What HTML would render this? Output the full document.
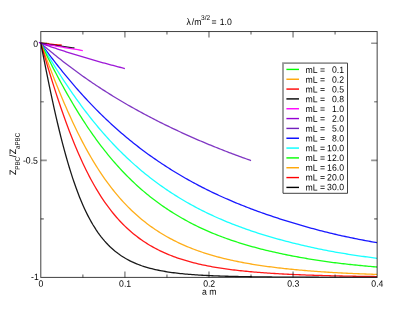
<!DOCTYPE html><html><head><meta charset="utf-8"><title>plot</title><style>html,body{margin:0;padding:0;background:#fff}svg{display:block}</style></head><body><svg width="407" height="315" viewBox="0 0 407 315" font-family="Liberation Sans, sans-serif" font-size="9.2" fill="#000" text-rendering="geometricPrecision" stroke="#000" stroke-width="0">
<rect width="407" height="315" fill="#fff"/>
<clipPath id="c"><rect x="40.8" y="31.55" width="336.34999999999997" height="245.84999999999997"/></clipPath>
<g clip-path="url(#c)" fill="none" stroke-width="1.3" stroke-opacity="0.9" stroke-linejoin="round">
<polyline stroke="#00ff00" points="40.80,43.26 42.90,43.30 45.00,43.34"/>
<polyline stroke="#ffa500" points="40.80,43.26 42.48,43.32 44.16,43.38 45.85,43.45 47.53,43.51 49.21,43.57"/>
<polyline stroke="#ff0000" points="40.80,43.26 42.55,43.42 44.30,43.59 46.06,43.75 47.81,43.91 49.56,44.07 51.31,44.23 53.06,44.39 54.81,44.54 56.57,44.70 58.32,44.85 60.07,45.00 61.82,45.16"/>
<polyline stroke="#000000" points="40.80,43.26 42.48,43.51 44.16,43.76 45.85,44.01 47.53,44.26 49.21,44.51 50.89,44.75 52.57,44.99 54.25,45.23 55.94,45.47 57.62,45.71 59.30,45.95 60.98,46.18 62.66,46.41 64.34,46.64 66.03,46.87 67.71,47.10 69.39,47.33 71.07,47.55 72.75,47.78 74.44,48.00"/>
<polyline stroke="#ff00ff" points="40.80,43.26 42.48,43.57 44.16,43.89 45.85,44.20 47.53,44.51 49.21,44.82 50.89,45.12 52.57,45.43 54.25,45.73 55.94,46.03 57.62,46.32 59.30,46.62 60.98,46.91 62.66,47.20 64.34,47.49 66.03,47.78 67.71,48.06 69.39,48.34 71.07,48.63 72.75,48.90 74.44,49.18 76.12,49.46 77.80,49.73 79.48,50.00 81.16,50.27 82.84,50.54"/>
<polyline stroke="#9400d3" points="40.80,43.26 42.48,43.85 44.16,44.45 45.85,45.03 47.53,45.62 49.21,46.19 50.89,46.77 52.57,47.34 54.25,47.91 55.94,48.47 57.62,49.03 59.30,49.58 60.98,50.13 62.66,50.68 64.34,51.22 66.03,51.76 67.71,52.29 69.39,52.83 71.07,53.35 72.75,53.88 74.44,54.40 76.12,54.92 77.80,55.43 79.48,55.94 81.16,56.45 82.84,56.96 84.53,57.46 86.21,57.96 87.89,58.45 89.57,58.94 91.25,59.43 92.93,59.92 94.62,60.40 96.30,60.87 97.98,61.35 99.66,61.82 101.34,62.29 103.02,62.76 104.71,63.22 106.39,63.68 108.07,64.13 109.75,64.59 111.43,65.04 113.12,65.49 114.80,65.93 116.48,66.38 118.16,66.82 119.84,67.25 121.52,67.69 123.21,68.12 124.89,68.56"/>
<polyline stroke="#7221bc" points="40.80,43.26 42.48,44.70 44.16,46.13 45.85,47.55 47.53,48.95 49.21,50.35 50.89,51.74 52.57,53.11 54.25,54.48 55.94,55.83 57.62,57.18 59.30,58.51 60.98,59.84 62.66,61.15 64.34,62.45 66.03,63.75 67.71,65.03 69.39,66.31 71.07,67.57 72.75,68.83 74.44,70.08 76.12,71.31 77.80,72.54 79.48,73.76 81.16,74.97 82.84,76.17 84.53,77.36 86.21,78.54 87.89,79.71 89.57,80.87 91.25,82.03 92.93,83.17 94.62,84.30 96.30,85.43 97.98,86.54 99.66,87.65 101.34,88.75 103.02,89.83 104.71,90.91 106.39,91.99 108.07,93.05 109.75,94.10 111.43,95.15 113.12,96.19 114.80,97.22 116.48,98.24 118.16,99.25 119.84,100.26 121.52,101.26 123.21,102.25 124.89,103.24 126.57,104.21 128.25,105.19 129.93,106.15 131.61,107.10 133.30,108.05 134.98,108.99 136.66,109.93 138.34,110.85 140.02,111.77 141.70,112.69 143.39,113.59 145.07,114.49 146.75,115.39 148.43,116.27 150.11,117.15 151.80,118.03 153.48,118.89 155.16,119.76 156.84,120.61 158.52,121.46 160.20,122.31 161.89,123.15 163.57,123.98 165.25,124.81 166.93,125.63 168.61,126.45 170.29,127.26 171.98,128.07 173.66,128.87 175.34,129.66 177.02,130.45 178.70,131.24 180.39,132.02 182.07,132.80 183.75,133.57 185.43,134.33 187.11,135.09 188.79,135.85 190.48,136.60 192.16,137.34 193.84,138.08 195.52,138.82 197.20,139.55 198.88,140.28 200.57,141.00 202.25,141.71 203.93,142.43 205.61,143.13 207.29,143.83 208.97,144.53 210.66,145.22 212.34,145.91 214.02,146.59 215.70,147.27 217.38,147.94 219.07,148.61 220.75,149.27 222.43,149.93 224.11,150.59 225.79,151.24 227.47,151.89 229.16,152.53 230.84,153.17 232.52,153.80 234.20,154.43 235.88,155.06 237.56,155.69 239.25,156.31 240.93,156.92 242.61,157.54 244.29,158.15 245.97,158.76 247.66,159.36 249.34,159.96 251.02,160.56"/>
<polyline stroke="#0000ff" points="40.80,43.26 42.48,45.56 44.16,47.85 45.85,50.12 47.53,52.37 49.21,54.60 50.89,56.82 52.57,59.01 54.25,61.19 55.94,63.35 57.62,65.49 59.30,67.61 60.98,69.71 62.66,71.80 64.34,73.87 66.03,75.91 67.71,77.94 69.39,79.95 71.07,81.95 72.75,83.92 74.44,85.88 76.12,87.81 77.80,89.73 79.48,91.63 81.16,93.52 82.84,95.38 84.53,97.22 86.21,99.05 87.89,100.86 89.57,102.64 91.25,104.41 92.93,106.16 94.62,107.89 96.30,109.61 97.98,111.30 99.66,112.98 101.34,114.63 103.02,116.27 104.71,117.89 106.39,119.50 108.07,121.08 109.75,122.65 111.43,124.20 113.12,125.74 114.80,127.26 116.48,128.76 118.16,130.25 119.84,131.72 121.52,133.17 123.21,134.61 124.89,136.04 126.57,137.45 128.25,138.84 129.93,140.22 131.61,141.58 133.30,142.93 134.98,144.26 136.66,145.58 138.34,146.88 140.02,148.17 141.70,149.45 143.39,150.71 145.07,151.95 146.75,153.19 148.43,154.41 150.11,155.61 151.80,156.81 153.48,157.99 155.16,159.15 156.84,160.31 158.52,161.45 160.20,162.58 161.89,163.70 163.57,164.81 165.25,165.91 166.93,166.99 168.61,168.06 170.29,169.13 171.98,170.18 173.66,171.22 175.34,172.25 177.02,173.27 178.70,174.27 180.39,175.27 182.07,176.26 183.75,177.23 185.43,178.20 187.11,179.15 188.79,180.10 190.48,181.03 192.16,181.96 193.84,182.88 195.52,183.78 197.20,184.68 198.88,185.56 200.57,186.44 202.25,187.31 203.93,188.16 205.61,189.01 207.29,189.85 208.97,190.68 210.66,191.50 212.34,192.31 214.02,193.11 215.70,193.91 217.38,194.69 219.07,195.47 220.75,196.23 222.43,196.99 224.11,197.74 225.79,198.49 227.47,199.22 229.16,199.95 230.84,200.67 232.52,201.38 234.20,202.09 235.88,202.79 237.56,203.48 239.25,204.16 240.93,204.84 242.61,205.51 244.29,206.18 245.97,206.84 247.66,207.49 249.34,208.14 251.02,208.78 252.70,209.41 254.38,210.04 256.06,210.66 257.75,211.28 259.43,211.89 261.11,212.49 262.79,213.09 264.47,213.68 266.15,214.27 267.84,214.85 269.52,215.42 271.20,215.99 272.88,216.56 274.56,217.11 276.25,217.67 277.93,218.22 279.61,218.76 281.29,219.30 282.97,219.83 284.65,220.36 286.34,220.89 288.02,221.41 289.70,221.92 291.38,222.43 293.06,222.94 294.74,223.44 296.43,223.94 298.11,224.44 299.79,224.93 301.47,225.42 303.15,225.91 304.83,226.39 306.52,226.86 308.20,227.34 309.88,227.80 311.56,228.27 313.24,228.73 314.93,229.18 316.61,229.63 318.29,230.08 319.97,230.52 321.65,230.95 323.33,231.38 325.02,231.81 326.70,232.23 328.38,232.64 330.06,233.05 331.74,233.46 333.42,233.85 335.11,234.25 336.79,234.63 338.47,235.01 340.15,235.39 341.83,235.77 343.51,236.14 345.20,236.50 346.88,236.86 348.56,237.22 350.24,237.57 351.92,237.92 353.61,238.26 355.29,238.60 356.97,238.94 358.65,239.27 360.33,239.60 362.01,239.92 363.70,240.25 365.38,240.56 367.06,240.88 368.74,241.19 370.42,241.49 372.10,241.80 373.79,242.09 375.47,242.39 377.15,242.68"/>
<polyline stroke="#00ffff" points="40.80,43.26 42.48,46.14 44.16,49.00 45.85,51.83 47.53,54.64 49.21,57.43 50.89,60.19 52.57,62.93 54.25,65.65 55.94,68.34 57.62,71.00 59.30,73.64 60.98,76.25 62.66,78.83 64.34,81.39 66.03,83.93 67.71,86.44 69.39,88.92 71.07,91.37 72.75,93.80 74.44,96.20 76.12,98.58 77.80,100.92 79.48,103.24 81.16,105.54 82.84,107.81 84.53,110.05 86.21,112.26 87.89,114.44 89.57,116.60 91.25,118.73 92.93,120.83 94.62,122.90 96.30,124.95 97.98,126.97 99.66,128.96 101.34,130.93 103.02,132.87 104.71,134.78 106.39,136.67 108.07,138.53 109.75,140.37 111.43,142.18 113.12,143.97 114.80,145.73 116.48,147.47 118.16,149.19 119.84,150.88 121.52,152.55 123.21,154.20 124.89,155.83 126.57,157.43 128.25,159.02 129.93,160.57 131.61,162.11 133.30,163.63 134.98,165.12 136.66,166.60 138.34,168.05 140.02,169.48 141.70,170.89 143.39,172.29 145.07,173.66 146.75,175.01 148.43,176.35 150.11,177.66 151.80,178.96 153.48,180.24 155.16,181.50 156.84,182.74 158.52,183.97 160.20,185.18 161.89,186.37 163.57,187.55 165.25,188.71 166.93,189.86 168.61,190.99 170.29,192.10 171.98,193.20 173.66,194.29 175.34,195.36 177.02,196.41 178.70,197.45 180.39,198.48 182.07,199.49 183.75,200.49 185.43,201.47 187.11,202.44 188.79,203.40 190.48,204.34 192.16,205.27 193.84,206.19 195.52,207.09 197.20,207.98 198.88,208.86 200.57,209.73 202.25,210.58 203.93,211.43 205.61,212.26 207.29,213.08 208.97,213.88 210.66,214.68 212.34,215.46 214.02,216.23 215.70,217.00 217.38,217.75 219.07,218.49 220.75,219.22 222.43,219.94 224.11,220.65 225.79,221.34 227.47,222.03 229.16,222.72 230.84,223.39 232.52,224.05 234.20,224.70 235.88,225.35 237.56,225.98 239.25,226.61 240.93,227.23 242.61,227.85 244.29,228.45 245.97,229.05 247.66,229.64 249.34,230.22 251.02,230.79 252.70,231.36 254.38,231.92 256.06,232.47 257.75,233.02 259.43,233.56 261.11,234.09 262.79,234.61 264.47,235.13 266.15,235.64 267.84,236.15 269.52,236.64 271.20,237.14 272.88,237.62 274.56,238.10 276.25,238.57 277.93,239.04 279.61,239.50 281.29,239.96 282.97,240.41 284.65,240.86 286.34,241.30 288.02,241.73 289.70,242.16 291.38,242.59 293.06,243.01 294.74,243.42 296.43,243.84 298.11,244.24 299.79,244.65 301.47,245.05 303.15,245.44 304.83,245.83 306.52,246.22 308.20,246.60 309.88,246.97 311.56,247.34 313.24,247.71 314.93,248.07 316.61,248.43 318.29,248.78 319.97,249.13 321.65,249.47 323.33,249.81 325.02,250.14 326.70,250.47 328.38,250.79 330.06,251.10 331.74,251.42 333.42,251.72 335.11,252.02 336.79,252.32 338.47,252.61 340.15,252.90 341.83,253.18 343.51,253.46 345.20,253.73 346.88,254.01 348.56,254.27 350.24,254.54 351.92,254.80 353.61,255.05 355.29,255.30 356.97,255.55 358.65,255.80 360.33,256.04 362.01,256.28 363.70,256.51 365.38,256.74 367.06,256.97 368.74,257.19 370.42,257.41 372.10,257.63 373.79,257.85 375.47,258.06 377.15,258.27"/>
<polyline stroke="#00ff00" points="40.80,43.26 42.48,46.71 44.16,50.14 45.85,53.54 47.53,56.92 49.21,60.26 50.89,63.57 52.57,66.84 54.25,70.09 55.94,73.30 57.62,76.48 59.30,79.62 60.98,82.73 62.66,85.81 64.34,88.84 66.03,91.85 67.71,94.81 69.39,97.74 71.07,100.64 72.75,103.49 74.44,106.31 76.12,109.10 77.80,111.84 79.48,114.55 81.16,117.22 82.84,119.85 84.53,122.44 86.21,125.00 87.89,127.52 89.57,130.00 91.25,132.44 92.93,134.84 94.62,137.20 96.30,139.53 97.98,141.82 99.66,144.07 101.34,146.29 103.02,148.47 104.71,150.61 106.39,152.72 108.07,154.79 109.75,156.83 111.43,158.84 113.12,160.81 114.80,162.75 116.48,164.66 118.16,166.53 119.84,168.38 121.52,170.19 123.21,171.97 124.89,173.73 126.57,175.45 128.25,177.15 129.93,178.81 131.61,180.44 133.30,182.05 134.98,183.63 136.66,185.18 138.34,186.70 140.02,188.20 141.70,189.67 143.39,191.12 145.07,192.54 146.75,193.93 148.43,195.30 150.11,196.65 151.80,197.97 153.48,199.27 155.16,200.55 156.84,201.80 158.52,203.04 160.20,204.25 161.89,205.44 163.57,206.61 165.25,207.76 166.93,208.89 168.61,210.01 170.29,211.10 171.98,212.17 173.66,213.23 175.34,214.27 177.02,215.29 178.70,216.29 180.39,217.27 182.07,218.24 183.75,219.19 185.43,220.13 187.11,221.05 188.79,221.95 190.48,222.84 192.16,223.71 193.84,224.56 195.52,225.40 197.20,226.23 198.88,227.04 200.57,227.84 202.25,228.62 203.93,229.39 205.61,230.15 207.29,230.89 208.97,231.62 210.66,232.34 212.34,233.04 214.02,233.73 215.70,234.41 217.38,235.08 219.07,235.74 220.75,236.38 222.43,237.01 224.11,237.64 225.79,238.25 227.47,238.85 229.16,239.44 230.84,240.02 232.52,240.59 234.20,241.15 235.88,241.71 237.56,242.25 239.25,242.78 240.93,243.31 242.61,243.83 244.29,244.34 245.97,244.84 247.66,245.33 249.34,245.82 251.02,246.30 252.70,246.77 254.38,247.23 256.06,247.68 257.75,248.13 259.43,248.57 261.11,249.01 262.79,249.43 264.47,249.85 266.15,250.26 267.84,250.67 269.52,251.07 271.20,251.46 272.88,251.85 274.56,252.23 276.25,252.61 277.93,252.98 279.61,253.34 281.29,253.70 282.97,254.05 284.65,254.40 286.34,254.74 288.02,255.08 289.70,255.41 291.38,255.74 293.06,256.06 294.74,256.38 296.43,256.70 298.11,257.01 299.79,257.31 301.47,257.61 303.15,257.91 304.83,258.20 306.52,258.49 308.20,258.78 309.88,259.06 311.56,259.33 313.24,259.60 314.93,259.87 316.61,260.13 318.29,260.39 319.97,260.64 321.65,260.89 323.33,261.14 325.02,261.38 326.70,261.62 328.38,261.85 330.06,262.07 331.74,262.30 333.42,262.52 335.11,262.73 336.79,262.94 338.47,263.15 340.15,263.35 341.83,263.55 343.51,263.74 345.20,263.94 346.88,264.12 348.56,264.31 350.24,264.49 351.92,264.67 353.61,264.85 355.29,265.02 356.97,265.19 358.65,265.36 360.33,265.52 362.01,265.69 363.70,265.85 365.38,266.00 367.06,266.16 368.74,266.31 370.42,266.45 372.10,266.60 373.79,266.74 375.47,266.89 377.15,267.02"/>
<polyline stroke="#ffa500" points="40.80,43.26 42.48,47.87 44.16,52.44 45.85,56.97 47.53,61.45 49.21,65.89 50.89,70.28 52.57,74.62 54.25,78.91 55.94,83.14 57.62,87.32 59.30,91.44 60.98,95.50 62.66,99.50 64.34,103.45 66.03,107.32 67.71,111.14 69.39,114.89 71.07,118.58 72.75,122.20 74.44,125.76 76.12,129.26 77.80,132.69 79.48,136.05 81.16,139.35 82.84,142.58 84.53,145.75 86.21,148.85 87.89,151.88 89.57,154.85 91.25,157.76 92.93,160.60 94.62,163.38 96.30,166.09 97.98,168.75 99.66,171.34 101.34,173.87 103.02,176.35 104.71,178.76 106.39,181.12 108.07,183.42 109.75,185.67 111.43,187.87 113.12,190.01 114.80,192.10 116.48,194.14 118.16,196.14 119.84,198.08 121.52,199.98 123.21,201.83 124.89,203.64 126.57,205.40 128.25,207.12 129.93,208.79 131.61,210.43 133.30,212.02 134.98,213.57 136.66,215.09 138.34,216.56 140.02,218.00 141.70,219.41 143.39,220.77 145.07,222.11 146.75,223.41 148.43,224.67 150.11,225.91 151.80,227.12 153.48,228.29 155.16,229.44 156.84,230.55 158.52,231.64 160.20,232.71 161.89,233.74 163.57,234.75 165.25,235.74 166.93,236.70 168.61,237.64 170.29,238.56 171.98,239.45 173.66,240.32 175.34,241.17 177.02,242.00 178.70,242.81 180.39,243.60 182.07,244.37 183.75,245.12 185.43,245.85 187.11,246.56 188.79,247.26 190.48,247.94 192.16,248.60 193.84,249.25 195.52,249.88 197.20,250.50 198.88,251.10 200.57,251.68 202.25,252.25 203.93,252.81 205.61,253.35 207.29,253.88 208.97,254.40 210.66,254.90 212.34,255.40 214.02,255.88 215.70,256.34 217.38,256.80 219.07,257.25 220.75,257.68 222.43,258.11 224.11,258.52 225.79,258.92 227.47,259.32 229.16,259.71 230.84,260.08 232.52,260.45 234.20,260.81 235.88,261.16 237.56,261.50 239.25,261.84 240.93,262.17 242.61,262.49 244.29,262.80 245.97,263.11 247.66,263.41 249.34,263.70 251.02,263.99 252.70,264.27 254.38,264.54 256.06,264.81 257.75,265.07 259.43,265.33 261.11,265.58 262.79,265.83 264.47,266.06 266.15,266.30 267.84,266.53 269.52,266.75 271.20,266.97 272.88,267.18 274.56,267.39 276.25,267.60 277.93,267.80 279.61,268.00 281.29,268.19 282.97,268.38 284.65,268.56 286.34,268.74 288.02,268.92 289.70,269.09 291.38,269.26 293.06,269.43 294.74,269.59 296.43,269.75 298.11,269.91 299.79,270.06 301.47,270.21 303.15,270.36 304.83,270.50 306.52,270.65 308.20,270.78 309.88,270.92 311.56,271.05 313.24,271.18 314.93,271.31 316.61,271.43 318.29,271.56 319.97,271.67 321.65,271.79 323.33,271.90 325.02,272.01 326.70,272.12 328.38,272.23 330.06,272.33 331.74,272.43 333.42,272.53 335.11,272.62 336.79,272.72 338.47,272.81 340.15,272.90 341.83,272.98 343.51,273.07 345.20,273.15 346.88,273.23 348.56,273.31 350.24,273.39 351.92,273.46 353.61,273.54 355.29,273.61 356.97,273.68 358.65,273.75 360.33,273.82 362.01,273.88 363.70,273.95 365.38,274.01 367.06,274.07 368.74,274.13 370.42,274.19 372.10,274.25 373.79,274.31 375.47,274.36 377.15,274.42"/>
<polyline stroke="#ff0000" points="40.80,43.26 42.48,49.02 44.16,54.73 45.85,60.38 47.53,65.97 49.21,71.50 50.89,76.95 52.57,82.33 54.25,87.63 55.94,92.84 57.62,97.97 59.30,103.01 60.98,107.96 62.66,112.81 64.34,117.56 66.03,122.22 67.71,126.78 69.39,131.23 71.07,135.59 72.75,139.84 74.44,143.99 76.12,148.05 77.80,151.99 79.48,155.84 81.16,159.59 82.84,163.24 84.53,166.78 86.21,170.23 87.89,173.58 89.57,176.83 91.25,179.99 92.93,183.05 94.62,186.03 96.30,188.91 97.98,191.70 99.66,194.41 101.34,197.04 103.02,199.58 104.71,202.04 106.39,204.43 108.07,206.74 109.75,208.97 111.43,211.14 113.12,213.23 114.80,215.26 116.48,217.22 118.16,219.12 119.84,220.96 121.52,222.74 123.21,224.46 124.89,226.13 126.57,227.74 128.25,229.30 129.93,230.81 131.61,232.27 133.30,233.67 134.98,235.04 136.66,236.35 138.34,237.63 140.02,238.86 141.70,240.05 143.39,241.20 145.07,242.32 146.75,243.39 148.43,244.44 150.11,245.44 151.80,246.42 153.48,247.36 155.16,248.27 156.84,249.16 158.52,250.01 160.20,250.84 161.89,251.64 163.57,252.41 165.25,253.16 166.93,253.89 168.61,254.59 170.29,255.27 171.98,255.93 173.66,256.57 175.34,257.18 177.02,257.78 178.70,258.36 180.39,258.92 182.07,259.46 183.75,259.99 185.43,260.49 187.11,260.99 188.79,261.46 190.48,261.93 192.16,262.37 193.84,262.81 195.52,263.23 197.20,263.63 198.88,264.03 200.57,264.41 202.25,264.78 203.93,265.14 205.61,265.48 207.29,265.82 208.97,266.15 210.66,266.46 212.34,266.77 214.02,267.06 215.70,267.35 217.38,267.63 219.07,267.90 220.75,268.16 222.43,268.41 224.11,268.66 225.79,268.90 227.47,269.13 229.16,269.35 230.84,269.57 232.52,269.78 234.20,269.99 235.88,270.19 237.56,270.38 239.25,270.57 240.93,270.75 242.61,270.93 244.29,271.10 245.97,271.27 247.66,271.44 249.34,271.59 251.02,271.75 252.70,271.90 254.38,272.04 256.06,272.19 257.75,272.32 259.43,272.46 261.11,272.59 262.79,272.71 264.47,272.83 266.15,272.95 267.84,273.07 269.52,273.18 271.20,273.29 272.88,273.40 274.56,273.50 276.25,273.60 277.93,273.70 279.61,273.80 281.29,273.89 282.97,273.98 284.65,274.07 286.34,274.15 288.02,274.24 289.70,274.32 291.38,274.40 293.06,274.48 294.74,274.55 296.43,274.63 298.11,274.70 299.79,274.77 301.47,274.83 303.15,274.90 304.83,274.97 306.52,275.03 308.20,275.09 309.88,275.15 311.56,275.21 313.24,275.26 314.93,275.32 316.61,275.37 318.29,275.42 319.97,275.47 321.65,275.52 323.33,275.57 325.02,275.62 326.70,275.66 328.38,275.71 330.06,275.75 331.74,275.79 333.42,275.83 335.11,275.87 336.79,275.91 338.47,275.94 340.15,275.98 341.83,276.01 343.51,276.04 345.20,276.08 346.88,276.11 348.56,276.14 350.24,276.17 351.92,276.20 353.61,276.23 355.29,276.25 356.97,276.28 358.65,276.31 360.33,276.33 362.01,276.36 363.70,276.38 365.38,276.40 367.06,276.43 368.74,276.45 370.42,276.47 372.10,276.49 373.79,276.51 375.47,276.53 377.15,276.55"/>
<polyline stroke="#000000" points="40.80,43.26 42.48,51.90 44.16,60.45 45.85,68.89 47.53,77.20 49.21,85.37 50.89,93.37 52.57,101.20 54.25,108.83 55.94,116.27 57.62,123.49 59.30,130.50 60.98,137.29 62.66,143.84 64.34,150.17 66.03,156.27 67.71,162.13 69.39,167.77 71.07,173.18 72.75,178.36 74.44,183.31 76.12,188.05 77.80,192.58 79.48,196.90 81.16,201.02 82.84,204.94 84.53,208.68 86.21,212.23 87.89,215.60 89.57,218.80 91.25,221.84 92.93,224.73 94.62,227.46 96.30,230.06 97.98,232.51 99.66,234.84 101.34,237.05 103.02,239.14 104.71,241.12 106.39,242.99 108.07,244.76 109.75,246.44 111.43,248.03 113.12,249.53 114.80,250.96 116.48,252.31 118.16,253.58 119.84,254.79 121.52,255.94 123.21,257.02 124.89,258.05 126.57,259.02 128.25,259.94 129.93,260.81 131.61,261.64 133.30,262.42 134.98,263.16 136.66,263.86 138.34,264.52 140.02,265.15 141.70,265.75 143.39,266.31 145.07,266.85 146.75,267.36 148.43,267.84 150.11,268.30 151.80,268.73 153.48,269.14 155.16,269.54 156.84,269.91 158.52,270.26 160.20,270.59 161.89,270.91 163.57,271.22 165.25,271.50 166.93,271.78 168.61,272.04 170.29,272.28 171.98,272.52 173.66,272.74 175.34,272.95 177.02,273.16 178.70,273.35 180.39,273.53 182.07,273.71 183.75,273.87 185.43,274.03 187.11,274.18 188.79,274.32 190.48,274.46 192.16,274.59 193.84,274.71 195.52,274.83 197.20,274.94 198.88,275.05 200.57,275.15 202.25,275.25 203.93,275.34 205.61,275.43 207.29,275.52 208.97,275.60 210.66,275.67 212.34,275.75 214.02,275.82 215.70,275.88 217.38,275.95 219.07,276.01 220.75,276.07 222.43,276.12 224.11,276.17 225.79,276.23 227.47,276.27 229.16,276.32 230.84,276.36 232.52,276.41 234.20,276.45 235.88,276.49 237.56,276.52 239.25,276.56 240.93,276.59 242.61,276.63 244.29,276.66 245.97,276.69 247.66,276.71 249.34,276.74 251.02,276.77 252.70,276.79 254.38,276.82 256.06,276.84 257.75,276.86 259.43,276.88 261.11,276.90 262.79,276.92 264.47,276.94 266.15,276.96 267.84,276.98 269.52,276.99 271.20,277.01 272.88,277.03 274.56,277.04 276.25,277.05 277.93,277.07 279.61,277.08 281.29,277.09 282.97,277.10 284.65,277.12 286.34,277.13 288.02,277.14 289.70,277.15 291.38,277.16 293.06,277.17 294.74,277.18 296.43,277.18 298.11,277.19 299.79,277.20 301.47,277.21 303.15,277.22 304.83,277.22 306.52,277.23 308.20,277.24 309.88,277.24 311.56,277.25 313.24,277.25 314.93,277.26 316.61,277.27 318.29,277.27 319.97,277.28 321.65,277.28 323.33,277.29 325.02,277.29 326.70,277.29 328.38,277.30 330.06,277.30 331.74,277.31 333.42,277.31 335.11,277.31 336.79,277.32 338.47,277.32 340.15,277.32 341.83,277.32 343.51,277.33 345.20,277.33 346.88,277.33 348.56,277.33 350.24,277.34 351.92,277.34 353.61,277.34 355.29,277.34 356.97,277.35 358.65,277.35 360.33,277.35 362.01,277.35 363.70,277.35 365.38,277.35 367.06,277.36 368.74,277.36 370.42,277.36 372.10,277.36 373.79,277.36 375.47,277.36 377.15,277.36"/>
</g>
<line x1="38.9" y1="42.3" x2="42.5" y2="43.9" stroke="#9400d3" stroke-width="1.3"/>
<g stroke="#000" stroke-width="1" stroke-opacity="0.75" fill="none">
<rect x="40.8" y="31.55" width="336.34999999999997" height="245.84999999999997"/>
<path d="M82.84 277.4v-3M82.84 31.55v3M124.89 277.4v-6M124.89 31.55v6M166.93 277.4v-3M166.93 31.55v3M208.97 277.4v-6M208.97 31.55v6M251.02 277.4v-3M251.02 31.55v3M293.06 277.4v-6M293.06 31.55v6M335.11 277.4v-3M335.11 31.55v3M40.8 43.26h6M377.15 43.26h-6M40.8 101.79h3M377.15 101.79h-3M40.8 160.33h6M377.15 160.33h-6M40.8 218.86h3M377.15 218.86h-3" stroke-width="1.6" stroke-opacity="0.42"/>
</g>
<text transform="matrix(0.945,0.002,0,1,41.00,286.75)" stroke-width="0" text-anchor="middle">0</text>
<text transform="matrix(0.945,0.002,0,1,125.09,286.75)" stroke-width="0" text-anchor="middle">0.1</text>
<text transform="matrix(0.945,0.002,0,1,209.17,286.75)" stroke-width="0" text-anchor="middle">0.2</text>
<text transform="matrix(0.945,0.002,0,1,293.26,286.75)" stroke-width="0" text-anchor="middle">0.3</text>
<text transform="matrix(0.945,0.002,0,1,377.35,286.75)" stroke-width="0" text-anchor="middle">0.4</text>
<text transform="matrix(0.945,0.002,0,1,38.10,46.90)" stroke-width="0" text-anchor="end">0</text>
<text transform="matrix(0.945,0.002,0,1,37.90,163.65)" stroke-width="0" text-anchor="end">-0.5</text>
<text transform="matrix(0.945,0.002,0,1,38.80,280.05)" stroke-width="0" text-anchor="end">-1</text>
<text transform="matrix(0.945,0.002,0,1,209.20,294.80)" stroke-width="0" text-anchor="middle">a m</text>
<text transform="matrix(0.945,0.002,0,1,186.40,24.95)" stroke-width="0" text-anchor="start">λ<tspan dx="1.1">/m</tspan><tspan dy="-5" dx="-0.5" font-size="7">3/2</tspan><tspan dy="5" dx="-1.1"> = </tspan><tspan dx="0.7">1.0</tspan></text>
<text transform="translate(15.90,175.00) rotate(-89.9) scale(0.945,1)" stroke-width="0.08" text-anchor="start">Z<tspan dy="3.9" font-size="6.53" stroke-width="0">PBC</tspan><tspan dy="-3.9" dx="-0.3">/</tspan><tspan dx="0.7">Z</tspan><tspan dy="3.9" font-size="6.53" stroke-width="0">aPBC</tspan></text>
<rect x="283.0" y="63.2" width="64.5" height="130.1" fill="#fff" stroke="none"/>
<path d="M347.5 63.2V193.3H283.0" fill="none" stroke="#000" stroke-width="1" stroke-opacity="0.75"/>
<path d="M283.0 193.3V63.2H347.5" fill="none" stroke="#000" stroke-width="1.8" stroke-opacity="0.42"/>
<line x1="286.4" x2="299.0" y1="69.41" y2="69.41" stroke="#00ff00" stroke-width="1.4"/>
<text transform="matrix(0.945,0.002,0,1,305.60,72.90)" stroke-width="0" text-anchor="start">mL</text>
<text transform="matrix(0.945,0.002,0,1,322.50,72.90)" stroke-width="0" text-anchor="middle">=</text>
<text transform="matrix(0.945,0.002,0,1,344.00,72.90)" stroke-width="0" text-anchor="end">0.1</text>
<line x1="286.4" x2="299.0" y1="79.24" y2="79.24" stroke="#ffa500" stroke-width="1.4"/>
<text transform="matrix(0.945,0.002,0,1,305.60,82.69)" stroke-width="0" text-anchor="start">mL</text>
<text transform="matrix(0.945,0.002,0,1,322.50,82.69)" stroke-width="0" text-anchor="middle">=</text>
<text transform="matrix(0.945,0.002,0,1,344.00,82.69)" stroke-width="0" text-anchor="end">0.2</text>
<line x1="286.4" x2="299.0" y1="89.08" y2="89.08" stroke="#ff0000" stroke-width="1.4"/>
<text transform="matrix(0.945,0.002,0,1,305.60,92.48)" stroke-width="0" text-anchor="start">mL</text>
<text transform="matrix(0.945,0.002,0,1,322.50,92.48)" stroke-width="0" text-anchor="middle">=</text>
<text transform="matrix(0.945,0.002,0,1,344.00,92.48)" stroke-width="0" text-anchor="end">0.5</text>
<line x1="286.4" x2="299.0" y1="98.91" y2="98.91" stroke="#000000" stroke-width="1.4"/>
<text transform="matrix(0.945,0.002,0,1,305.60,102.27)" stroke-width="0" text-anchor="start">mL</text>
<text transform="matrix(0.945,0.002,0,1,322.50,102.27)" stroke-width="0" text-anchor="middle">=</text>
<text transform="matrix(0.945,0.002,0,1,344.00,102.27)" stroke-width="0" text-anchor="end">0.8</text>
<line x1="286.4" x2="299.0" y1="108.74" y2="108.74" stroke="#ff00ff" stroke-width="1.4"/>
<text transform="matrix(0.945,0.002,0,1,305.60,112.06)" stroke-width="0" text-anchor="start">mL</text>
<text transform="matrix(0.945,0.002,0,1,322.50,112.06)" stroke-width="0" text-anchor="middle">=</text>
<text transform="matrix(0.945,0.002,0,1,344.00,112.06)" stroke-width="0" text-anchor="end">1.0</text>
<line x1="286.4" x2="299.0" y1="118.57" y2="118.57" stroke="#9400d3" stroke-width="1.4"/>
<text transform="matrix(0.945,0.002,0,1,305.60,121.85)" stroke-width="0" text-anchor="start">mL</text>
<text transform="matrix(0.945,0.002,0,1,322.50,121.85)" stroke-width="0" text-anchor="middle">=</text>
<text transform="matrix(0.945,0.002,0,1,344.00,121.85)" stroke-width="0" text-anchor="end">2.0</text>
<line x1="286.4" x2="299.0" y1="128.41" y2="128.41" stroke="#7221bc" stroke-width="1.4"/>
<text transform="matrix(0.945,0.002,0,1,305.60,131.64)" stroke-width="0" text-anchor="start">mL</text>
<text transform="matrix(0.945,0.002,0,1,322.50,131.64)" stroke-width="0" text-anchor="middle">=</text>
<text transform="matrix(0.945,0.002,0,1,344.00,131.64)" stroke-width="0" text-anchor="end">5.0</text>
<line x1="286.4" x2="299.0" y1="138.24" y2="138.24" stroke="#0000ff" stroke-width="1.4"/>
<text transform="matrix(0.945,0.002,0,1,305.60,141.43)" stroke-width="0" text-anchor="start">mL</text>
<text transform="matrix(0.945,0.002,0,1,322.50,141.43)" stroke-width="0" text-anchor="middle">=</text>
<text transform="matrix(0.945,0.002,0,1,344.00,141.43)" stroke-width="0" text-anchor="end">8.0</text>
<line x1="286.4" x2="299.0" y1="148.07" y2="148.07" stroke="#00ffff" stroke-width="1.4"/>
<text transform="matrix(0.945,0.002,0,1,305.60,151.22)" stroke-width="0" text-anchor="start">mL</text>
<text transform="matrix(0.945,0.002,0,1,322.50,151.22)" stroke-width="0" text-anchor="middle">=</text>
<text transform="matrix(0.945,0.002,0,1,344.00,151.22)" stroke-width="0" text-anchor="end">10.0</text>
<line x1="286.4" x2="299.0" y1="157.91" y2="157.91" stroke="#00ff00" stroke-width="1.4"/>
<text transform="matrix(0.945,0.002,0,1,305.60,161.01)" stroke-width="0" text-anchor="start">mL</text>
<text transform="matrix(0.945,0.002,0,1,322.50,161.01)" stroke-width="0" text-anchor="middle">=</text>
<text transform="matrix(0.945,0.002,0,1,344.00,161.01)" stroke-width="0" text-anchor="end">12.0</text>
<line x1="286.4" x2="299.0" y1="167.74" y2="167.74" stroke="#ffa500" stroke-width="1.4"/>
<text transform="matrix(0.945,0.002,0,1,305.60,170.80)" stroke-width="0" text-anchor="start">mL</text>
<text transform="matrix(0.945,0.002,0,1,322.50,170.80)" stroke-width="0" text-anchor="middle">=</text>
<text transform="matrix(0.945,0.002,0,1,344.00,170.80)" stroke-width="0" text-anchor="end">16.0</text>
<line x1="286.4" x2="299.0" y1="177.57" y2="177.57" stroke="#ff0000" stroke-width="1.4"/>
<text transform="matrix(0.945,0.002,0,1,305.60,180.59)" stroke-width="0" text-anchor="start">mL</text>
<text transform="matrix(0.945,0.002,0,1,322.50,180.59)" stroke-width="0" text-anchor="middle">=</text>
<text transform="matrix(0.945,0.002,0,1,344.00,180.59)" stroke-width="0" text-anchor="end">20.0</text>
<line x1="286.4" x2="299.0" y1="187.41" y2="187.41" stroke="#000000" stroke-width="1.4"/>
<text transform="matrix(0.945,0.002,0,1,305.60,190.38)" stroke-width="0" text-anchor="start">mL</text>
<text transform="matrix(0.945,0.002,0,1,322.50,190.38)" stroke-width="0" text-anchor="middle">=</text>
<text transform="matrix(0.945,0.002,0,1,344.00,190.38)" stroke-width="0" text-anchor="end">30.0</text>
</svg></body></html>
